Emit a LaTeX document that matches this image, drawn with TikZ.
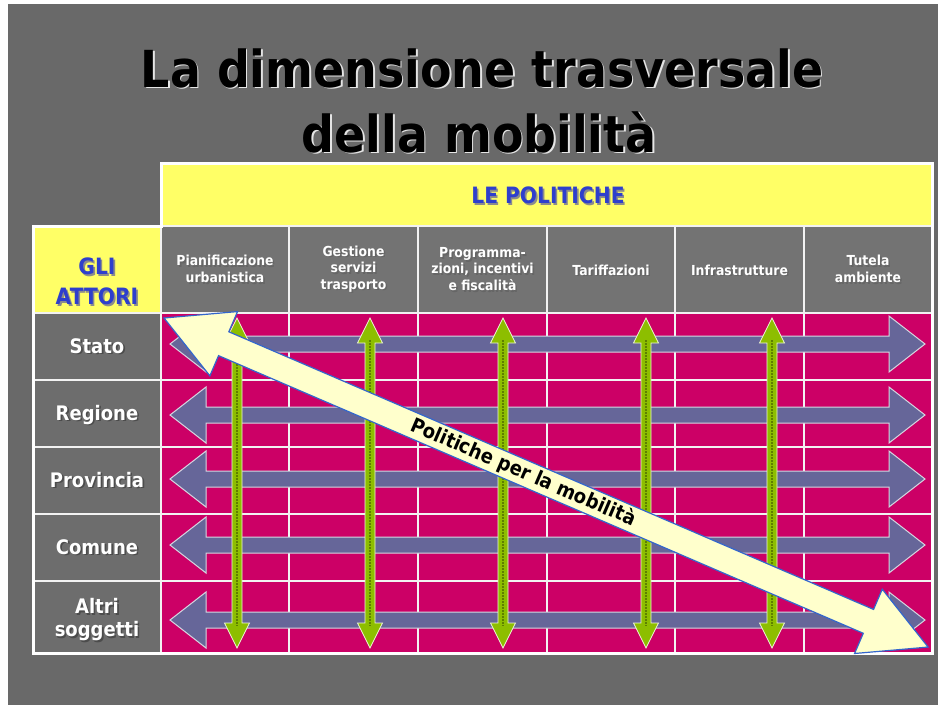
\documentclass[tikz,border=0pt]{standalone}
\usepackage{fontspec}
\newfontfamily\tah{DejaVu Sans}[FakeStretch=0.9]
\definecolor{bg}{HTML}{696969}
\definecolor{cellg}{HTML}{737373}
\definecolor{cellgl}{HTML}{6D6D6D}
\definecolor{mag}{HTML}{CC0066}
\definecolor{yel}{HTML}{FFFF66}
\definecolor{purp}{HTML}{666699}
\definecolor{grn}{HTML}{8DBE00}
\definecolor{grnd}{HTML}{5E8000}
\definecolor{pale}{HTML}{FFFFCC}
\definecolor{edgeblue}{HTML}{3366CC}
\definecolor{hblue}{HTML}{2E3FCC}
\definecolor{gridc}{HTML}{F2F2F2}
\newcommand\shnode[5]{% name, style, shadow colour, position, text
  \node[#2, text=#3, xshift=1.6pt, yshift=-1.6pt] at #4 {#5};
  \node[#2] (#1) at #4 {#5};}
\begin{document}
\begin{tikzpicture}[x=1pt,y=-1pt,
  gridline/.style={draw=gridc, line width=1.4pt},
  frame/.style={draw=white, line width=3pt, line join=miter},
  parrow/.style={fill=purp, draw=gridc!80!purp, line width=1pt, line join=miter},
  garrow/.style={fill=grn, draw=white!85!grn, line width=0.8pt, line join=miter},
  bigarrow/.style={fill=pale, draw=edgeblue, line width=1.2pt, line join=miter},
  rowlbl/.style={font=\tah\bfseries\fontsize{20}{23}\selectfont, text=white, align=center, inner sep=0pt},
  colhdr/.style={font=\tah\bfseries\fontsize{13.8}{16.5}\selectfont, text=white, align=center, inner sep=0pt},
  hdr/.style={font=\tah\bfseries\fontsize{22.5}{30}\selectfont, text=hblue, align=center, inner sep=0pt},
  ttl/.style={font=\tah\bfseries\fontsize{51}{60}\selectfont, text=black, anchor=base, inner sep=0pt},
  pol/.style={font=\tah\bfseries\fontsize{20}{22}\selectfont, text=black, inner sep=0pt}
]
\useasboundingbox (0,0) rectangle (938,705);
\fill[white] (0,0) rectangle (938,705);
\fill[bg] (8,4) rectangle (938,705);

% title
\shnode{t1}{ttl, xshift=0.2pt}{white!90!black}{(482,87)}{La dimensione trasversale}
\shnode{t2}{ttl, xshift=0.2pt}{white!90!black}{(479,152)}{della mobilità}

% table fills
\fill[yel] (161,163) rectangle (932,226);
\fill[yel] (33,226) rectangle (161,313);
\fill[cellg] (161,226) rectangle (932,313);
\fill[cellgl] (33,313) rectangle (161,653);
\fill[mag] (161,313) rectangle (932,653);

% grid
\foreach \r in {226,313,380,447,514,581}
  \draw[gridline] (33,\r) -- (932,\r);
\foreach \c in {161,289,418,547,675,804}
  \draw[gridline] (\c,226) -- (\c,653);
\draw[frame] (33,226) -- (33,653) -- (932,653) -- (932,163) -- (161,163) -- (161,226) -- cycle;

% horizontal double arrows (actors)
\foreach \y in {344,415,479,545,620}
  \draw[parrow] (170,\y) -- (206,\y-28) -- (206,\y-8) -- (889,\y-8) -- (889,\y-28)
    -- (925,\y) -- (889,\y+28) -- (889,\y+8) -- (206,\y+8) -- (206,\y+28) -- cycle;

% vertical double arrows (policies)
\foreach \x in {237,370,503,646,772} {
  \draw[garrow] (\x,318) -- (\x+12.5,343) -- (\x+5,343) -- (\x+5,623) -- (\x+12.5,623)
    -- (\x,648) -- (\x-12.5,623) -- (\x-5,623) -- (\x-5,343) -- (\x-12.5,343) -- cycle;
  \draw[grnd, densely dotted, line width=2pt] (\x,340) -- (\x,626);
}

% big diagonal arrow
\begin{scope}[shift={(164,318)}, rotate=-23.3]
  \draw[bigarrow] (0,0) -- (65,-35) -- (65,-13) -- (767,-13) -- (767,-35) -- (832,0)
    -- (767,35) -- (767,13) -- (65,13) -- (65,35) -- cycle;
  \node[pol, transform shape] (polm) at (391,0) {Politiche per la mobilità};
\end{scope}

% headings
\shnode{lepol}{hdr}{black!45}{(548,195.5)}{LE POLITICHE}
\shnode{attori}{hdr}{black!45}{(97,281.5)}{GLI\\ATTORI}

% column headers
\shnode{h1}{colhdr}{black!60}{(225,269)}{Pianificazione\\urbanistica}
\shnode{h2}{colhdr}{black!60}{(353.5,269)}{Gestione\\servizi\\trasporto}
\shnode{h3}{colhdr}{black!60}{(482.5,269)}{Programma-\\zioni, incentivi\\e fiscalità}
\shnode{h4}{colhdr}{black!60}{(611,270)}{Tariffazioni}
\shnode{h5}{colhdr}{black!60}{(739.5,270)}{Infrastrutture}
\shnode{h6}{colhdr}{black!60}{(868,269)}{Tutela\\ambiente}

% row labels
\shnode{stato}{rowlbl, anchor=base}{black!70}{(97,353)}{Stato}
\shnode{regione}{rowlbl, anchor=base}{black!70}{(97,420)}{Regione}
\shnode{provincia}{rowlbl, anchor=base}{black!70}{(97,487)}{Provincia}
\shnode{comune}{rowlbl, anchor=base}{black!70}{(97,554)}{Comune}
\shnode{altri}{rowlbl}{black!70}{(97,619.5)}{Altri\\soggetti}
\end{tikzpicture}
\end{document}
